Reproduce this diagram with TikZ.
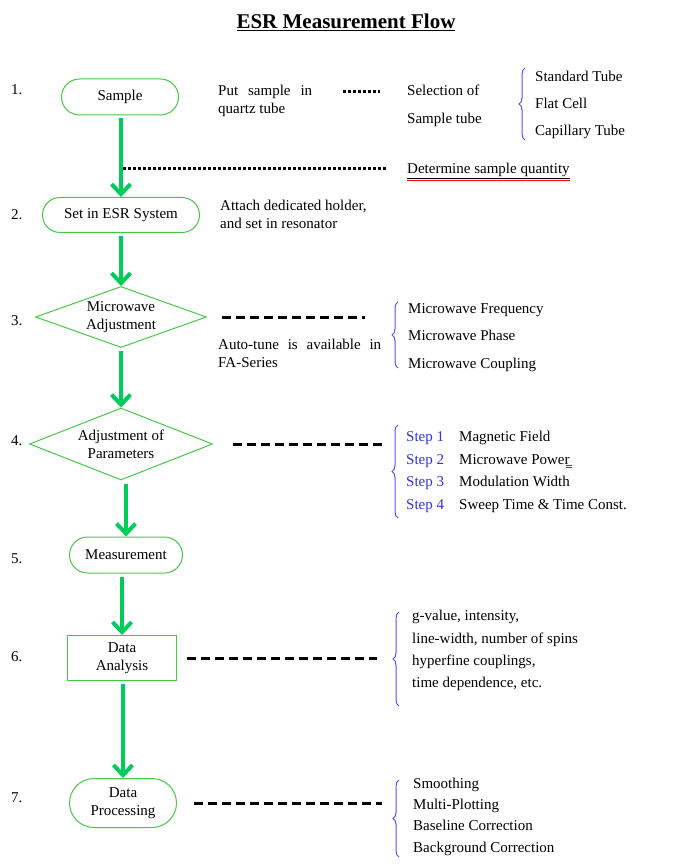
\documentclass[tikz,border=0pt]{standalone}
\usepackage{fontspec}
\setmainfont{Liberation Serif}
\usepackage{xcolor}
\usepackage{tikz}
\usetikzlibrary{arrows.meta}
\usetikzlibrary{shapes}
\usetikzlibrary{decorations.pathreplacing}
\definecolor{flowgreen}{RGB}{0,204,90}
\definecolor{boxgreen}{RGB}{70,200,70}
\definecolor{braceblue}{RGB}{80,80,255}
\definecolor{stepblue}{RGB}{50,50,230}
\tikzset{
  stadium/.style={rounded rectangle, draw=boxgreen, line width=1pt, inner sep=0pt, align=center},
  decision/.style={diamond, draw=boxgreen, line width=1pt, inner sep=0pt},
  proc/.style={rectangle, draw=boxgreen, line width=1pt, inner sep=0pt, align=center},
  flow/.style={draw=flowgreen, line width=4pt, shorten <=3pt, -{Straight Barb[length=10pt,width=19pt]}},
  txt/.style={anchor=base west, inner sep=0pt},
  mtxt/.style={anchor=west, inner sep=0pt, align=left},
  dotline/.style={line width=3pt, dash pattern=on 3pt off 2pt},
  dashline/.style={line width=3pt, dash pattern=on 9pt off 5pt},
  curly/.style={draw=braceblue, line width=1pt, decorate, decoration={brace, amplitude=6pt}}
}
\begin{document}
\begin{tikzpicture}[x=1pt, y=-1pt, every node/.style={font=\fontsize{15}{18}\selectfont}]
  \useasboundingbox (0,0) rectangle (685,866);
  \node[font=\fontsize{21}{24}\selectfont\bfseries] (title) at (346,22) {\underline{ESR Measurement Flow}};

  % flow chart
  \node[stadium, minimum width=117pt, minimum height=36pt] (sample) at (120,97) {Sample};
  \node[stadium, minimum width=157pt, minimum height=35pt] (setesr) at (121,215) {Set in ESR System};
  \node[decision, minimum width=171pt, minimum height=61pt,
        label={[align=center]center:Microwave\\Adjustment}] (mwadj) at (121,317) {};
  \node[decision, minimum width=183pt, minimum height=72pt,
        label={[align=center]center:Adjustment of\\Parameters}] (params) at (121,444) {};
  \node[stadium, minimum width=113pt, minimum height=36pt] (meas) at (126,555) {Measurement};
  \node[proc, minimum width=109pt, minimum height=45pt] (analysis) at (122,658) {Data\\Analysis};
  \node[stadium, minimum width=107pt, minimum height=49pt] (process) at (123,803) {Data\\Processing};
  \foreach \a/\b in {sample/setesr, setesr/mwadj, mwadj/params, params/meas, meas/analysis, analysis/process}
    \draw[flow] (\a.south -| \b.north) -- (\b.north);
  \foreach \n/\y in {1/95, 2/220, 3/325, 4/445, 5/563, 6/661, 7/802}
    \node[txt] (num\n) at (11,\y) {\n.};

  % step 1
  \node[mtxt] (put) at (218,101) {\makebox[94pt][s]{Put sample in}\\quartz tube};
  \draw[dotline] (343,92) -- ++(37,0);
  \node[mtxt] (select) at (407,106) {Selection of\\[10pt]Sample tube};
  \draw[curly] (525,140) -- (525,68);
  \foreach \t/\y [count=\i] in {Standard Tube/82, Flat Cell/109, Capillary Tube/136}
    \node[txt] (tube\i) at (535,\y) {\t};
  \coordinate (qstart) at (sample.south |- 0,169);
  \draw[dotline] ([xshift=3pt]qstart) -- (386,169);
  \node[txt] (quant) at (407,174) {\underline{Determine sample quantity}};
  \draw[red, line width=0.8pt] ([yshift=-6.5pt]quant.base west) -- ([yshift=-6.5pt]quant.base east);

  % step 2
  \node[mtxt] (attach) at (220,214) {Attach dedicated holder,\\and set in resonator};

  % step 3
  \draw[dashline] ([xshift=15pt]mwadj.east) -- ++(143,0);
  \node[mtxt] (autotune) at (218,353) {\makebox[163pt][s]{Auto-tune is available in}\\FA-Series};
  \draw[curly] (398,368) -- (398,302);
  \foreach \t/\y [count=\i] in {Microwave Frequency/313, Microwave Phase/340, Microwave Coupling/368}
    \node[txt] (mw\i) at (408,\y) {\t};

  % step 4
  \draw[dashline] ([xshift=20pt]params.east) -- ++(153,0);
  \draw[curly] (398,518) -- (398,425);
  \foreach \t/\y [count=\i] in {Magnetic Field/441, Microwave Power/464, Modulation Width/486, Sweep Time \& Time Const./509}
  {\node[txt, text=stepblue] (step\i) at (406,\y) {Step \i};
   \node[txt] (par\i) at (459,\y) {\t};}
  \draw[red, line width=0.6pt] (566,465.5) -- ++(6,0) (566,467.5) -- ++(6,0);

  % step 6
  \draw[dashline] ([xshift=10pt]analysis.east) -- ++(190,0);
  \draw[curly] (399,706) -- (399,612);
  \foreach \t/\y [count=\i] in {g-value\char44{} intensity\char44/620, line-width\char44{} number of spins/643, hyperfine couplings\char44/665, time dependence\char44{} etc./687}
    \node[txt] (res\i) at (412,\y) {\t};

  % step 7
  \draw[dashline] ([xshift=17pt]process.east) -- ++(188,0);
  \draw[curly] (399,857) -- (399,780);
  \foreach \t/\y [count=\i] in {Smoothing/788, Multi-Plotting/809, Baseline Correction/830, Background Correction/852}
    \node[txt] (tool\i) at (413,\y) {\t};
\end{tikzpicture}
\end{document}
